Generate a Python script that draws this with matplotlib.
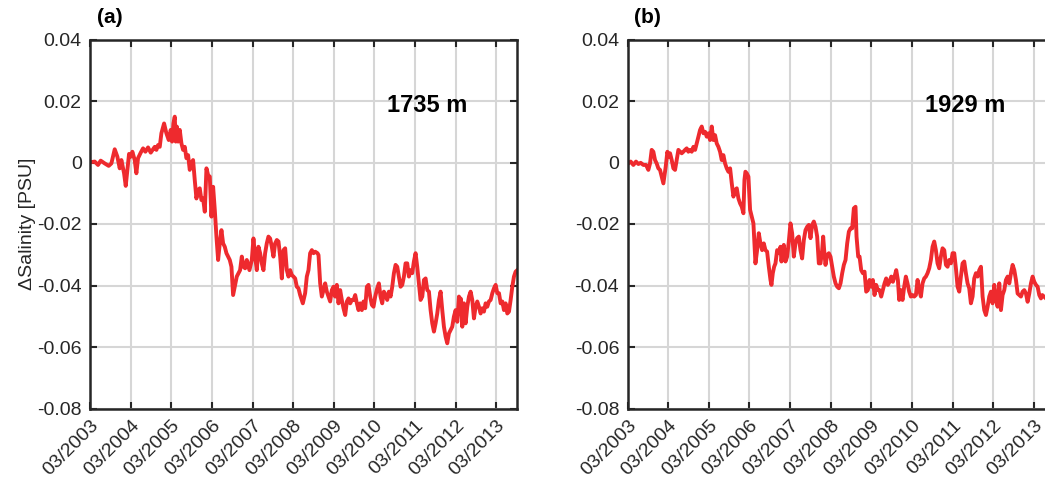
import matplotlib
matplotlib.use("Agg")
import matplotlib.pyplot as plt

# decimal year / salinity anomaly [PSU]
t_a = [2003.184, 2003.282, 2003.364, 2003.430, 2003.529, 2003.627, 2003.693, 2003.775, 2003.840, 2003.898,
       2003.939, 2004.005, 2004.046, 2004.087, 2004.128, 2004.169, 2004.210, 2004.267, 2004.308, 2004.349,
       2004.415, 2004.473, 2004.530, 2004.596, 2004.661, 2004.719, 2004.760, 2004.801, 2004.842, 2004.883,
       2004.924, 2004.990, 2005.047, 2005.105, 2005.154, 2005.187, 2005.220, 2005.253, 2005.277, 2005.302,
       2005.335, 2005.376, 2005.417, 2005.458, 2005.499, 2005.540, 2005.581, 2005.622, 2005.663, 2005.704,
       2005.745, 2005.786, 2005.827, 2005.868, 2005.909, 2005.950, 2005.992, 2006.033, 2006.074, 2006.115,
       2006.156, 2006.197, 2006.238, 2006.279, 2006.320, 2006.361, 2006.402, 2006.443, 2006.484, 2006.525,
       2006.566, 2006.607, 2006.648, 2006.689, 2006.779, 2006.861, 2006.903, 2006.944, 2006.985, 2007.026,
       2007.091, 2007.149, 2007.190, 2007.231, 2007.272, 2007.313, 2007.354, 2007.395, 2007.436, 2007.477,
       2007.518, 2007.559, 2007.600, 2007.641, 2007.682, 2007.724, 2007.765, 2007.806, 2007.847, 2007.888,
       2007.929, 2007.970, 2008.011, 2008.052, 2008.093, 2008.134, 2008.175, 2008.216, 2008.257, 2008.298,
       2008.339, 2008.405, 2008.462, 2008.503, 2008.544, 2008.585, 2008.627, 2008.668, 2008.709, 2008.766,
       2008.791, 2008.832, 2008.873, 2008.914, 2008.955, 2008.996, 2009.037, 2009.078, 2009.119, 2009.160,
       2009.201, 2009.242, 2009.283, 2009.324, 2009.365, 2009.406, 2009.448, 2009.489, 2009.530, 2009.571,
       2009.612, 2009.653, 2009.694, 2009.735, 2009.776, 2009.817, 2009.858, 2009.899, 2009.940, 2009.981,
       2010.022, 2010.063, 2010.104, 2010.145, 2010.186, 2010.236, 2010.277, 2010.318, 2010.359, 2010.400,
       2010.441, 2010.482, 2010.523, 2010.565, 2010.606, 2010.647, 2010.688, 2010.729, 2010.770, 2010.811,
       2010.852, 2010.893, 2010.934, 2010.975, 2011.016, 2011.057, 2011.098, 2011.139, 2011.180, 2011.221,
       2011.262, 2011.303, 2011.345, 2011.386, 2011.427, 2011.468, 2011.509, 2011.550, 2011.591, 2011.632,
       2011.673, 2011.714, 2011.755, 2011.796, 2011.837, 2011.878, 2011.919, 2011.960, 2012.001, 2012.042,
       2012.083, 2012.124, 2012.166, 2012.207, 2012.248, 2012.272, 2012.289, 2012.330, 2012.371, 2012.412,
       2012.453, 2012.494, 2012.535, 2012.576, 2012.617, 2012.658, 2012.699, 2012.740, 2012.781, 2012.822,
       2012.863, 2012.904, 2012.945, 2012.986, 2013.028, 2013.069, 2013.110, 2013.151, 2013.192, 2013.233,
       2013.274, 2013.315, 2013.356, 2013.397, 2013.438, 2013.479, 2013.520, 2013.561, 2013.602, 2013.643,
       2013.684]
s_a = [0.0001, 0.0003, -0.0008, 0.0006, -0.0003, -0.0011, -0.0003, 0.0043, 0.0019, -0.0019,
       0.0008, -0.0035, -0.0076, -0.0024, 0.0028, 0.0019, 0.0035, 0.0008, -0.0035, 0.0014,
       0.0032, 0.0046, 0.0035, 0.0049, 0.0032, 0.0043, 0.0051, 0.0041, 0.0057, 0.0051,
       0.0095, 0.0127, 0.0095, 0.0073, 0.0106, 0.0068, 0.0127, 0.0149, 0.0068, 0.0117,
       0.0068, 0.0106, 0.0062, 0.0041, 0.0051, 0.0014, 0.0024, -0.0024, -0.0003, 0.0008,
       -0.0057, -0.0117, -0.0089, -0.0084, -0.0122, -0.0117, -0.0160, -0.0019, -0.0041, -0.0046,
       -0.0176, -0.0079, -0.0154, -0.0241, -0.0317, -0.0263, -0.0220, -0.0263, -0.0274, -0.0295,
       -0.0306, -0.0317, -0.0339, -0.0431, -0.0371, -0.0350, -0.0306, -0.0339, -0.0344, -0.0317,
       -0.0350, -0.0317, -0.0247, -0.0306, -0.0350, -0.0274, -0.0295, -0.0328, -0.0350, -0.0295,
       -0.0263, -0.0241, -0.0247, -0.0274, -0.0306, -0.0263, -0.0252, -0.0257, -0.0306, -0.0377,
       -0.0285, -0.0279, -0.0350, -0.0371, -0.0350, -0.0366, -0.0371, -0.0377, -0.0404, -0.0409,
       -0.0431, -0.0458, -0.0425, -0.0371, -0.0350, -0.0295, -0.0285, -0.0295, -0.0290, -0.0295,
       -0.0301, -0.0393, -0.0436, -0.0415, -0.0393, -0.0420, -0.0436, -0.0452, -0.0415, -0.0404,
       -0.0436, -0.0398, -0.0458, -0.0415, -0.0447, -0.0474, -0.0496, -0.0452, -0.0442, -0.0458,
       -0.0447, -0.0447, -0.0431, -0.0458, -0.0480, -0.0458, -0.0480, -0.0452, -0.0474, -0.0404,
       -0.0398, -0.0436, -0.0463, -0.0469, -0.0436, -0.0409, -0.0393, -0.0436, -0.0458, -0.0420,
       -0.0431, -0.0447, -0.0420, -0.0436, -0.0404, -0.0360, -0.0333, -0.0339, -0.0371, -0.0404,
       -0.0398, -0.0371, -0.0328, -0.0328, -0.0371, -0.0350, -0.0360, -0.0322, -0.0295, -0.0339,
       -0.0393, -0.0447, -0.0436, -0.0382, -0.0377, -0.0415, -0.0420, -0.0480, -0.0523, -0.0550,
       -0.0523, -0.0491, -0.0447, -0.0420, -0.0480, -0.0534, -0.0566, -0.0588, -0.0556, -0.0545,
       -0.0534, -0.0501, -0.0480, -0.0518, -0.0436, -0.0491, -0.0442, -0.0534, -0.0458, -0.0523,
       -0.0469, -0.0436, -0.0420, -0.0447, -0.0507, -0.0469, -0.0452, -0.0469, -0.0491, -0.0474,
       -0.0485, -0.0458, -0.0469, -0.0452, -0.0447, -0.0425, -0.0409, -0.0398, -0.0425, -0.0425,
       -0.0458, -0.0452, -0.0480, -0.0458, -0.0491, -0.0485, -0.0447, -0.0404, -0.0371, -0.0355,
       -0.0350]

t_b = [2003.188, 2003.245, 2003.311, 2003.376, 2003.434, 2003.491, 2003.557, 2003.623, 2003.680, 2003.721,
       2003.762, 2003.803, 2003.844, 2003.885, 2003.926, 2003.967, 2004.009, 2004.050, 2004.074, 2004.107,
       2004.148, 2004.181, 2004.214, 2004.255, 2004.296, 2004.337, 2004.378, 2004.419, 2004.460, 2004.501,
       2004.542, 2004.583, 2004.624, 2004.665, 2004.706, 2004.747, 2004.789, 2004.830, 2004.871, 2004.912,
       2004.953, 2004.994, 2005.035, 2005.076, 2005.117, 2005.158, 2005.199, 2005.240, 2005.281, 2005.322,
       2005.363, 2005.404, 2005.445, 2005.486, 2005.527, 2005.568, 2005.609, 2005.650, 2005.692, 2005.733,
       2005.774, 2005.815, 2005.856, 2005.897, 2005.938, 2005.979, 2006.020, 2006.045, 2006.069, 2006.102,
       2006.143, 2006.184, 2006.225, 2006.266, 2006.316, 2006.357, 2006.398, 2006.439, 2006.480, 2006.521,
       2006.562, 2006.603, 2006.645, 2006.686, 2006.710, 2006.743, 2006.776, 2006.809, 2006.850, 2006.891,
       2006.932, 2006.956, 2006.989, 2007.014, 2007.055, 2007.096, 2007.137, 2007.178, 2007.219, 2007.260,
       2007.301, 2007.342, 2007.383, 2007.424, 2007.465, 2007.507, 2007.548, 2007.589, 2007.630, 2007.671,
       2007.712, 2007.753, 2007.794, 2007.835, 2007.876, 2007.917, 2007.958, 2007.983, 2008.007, 2008.040,
       2008.081, 2008.122, 2008.163, 2008.204, 2008.245, 2008.287, 2008.328, 2008.369, 2008.410, 2008.451,
       2008.492, 2008.533, 2008.574, 2008.615, 2008.656, 2008.697, 2008.738, 2008.779, 2008.804, 2008.845,
       2008.878, 2008.919, 2008.960, 2009.001, 2009.042, 2009.083, 2009.124, 2009.165, 2009.206, 2009.247,
       2009.288, 2009.329, 2009.370, 2009.411, 2009.452, 2009.493, 2009.534, 2009.575, 2009.617, 2009.658,
       2009.699, 2009.740, 2009.781, 2009.822, 2009.854, 2009.895, 2009.936, 2009.977, 2010.018, 2010.059,
       2010.100, 2010.141, 2010.183, 2010.224, 2010.265, 2010.306, 2010.347, 2010.388, 2010.429, 2010.470,
       2010.511, 2010.552, 2010.593, 2010.634, 2010.675, 2010.716, 2010.757, 2010.798, 2010.839, 2010.880,
       2010.921, 2010.963, 2011.004, 2011.045, 2011.086, 2011.127, 2011.168, 2011.209, 2011.250, 2011.291,
       2011.332, 2011.373, 2011.414, 2011.455, 2011.496, 2011.537, 2011.578, 2011.619, 2011.660, 2011.701,
       2011.743, 2011.784, 2011.825, 2011.866, 2011.907, 2011.948, 2011.989, 2012.030, 2012.071, 2012.112,
       2012.153, 2012.194, 2012.235, 2012.276, 2012.317, 2012.358, 2012.399, 2012.440, 2012.481, 2012.523,
       2012.564, 2012.605, 2012.646, 2012.687, 2012.728, 2012.769, 2012.810, 2012.851, 2012.892, 2012.933,
       2012.974, 2013.015, 2013.056, 2013.097, 2013.138, 2013.179, 2013.220, 2013.261, 2013.302, 2013.343,
       2013.376, 2013.450]
s_b = [-0.0003, 0.0003, -0.0008, 0.0003, -0.0005, -0.0001, -0.0008, -0.0008, -0.0024, -0.0003,
       0.0041, 0.0035, 0.0008, -0.0003, -0.0019, -0.0024, -0.0046, -0.0068, -0.0046, -0.0014,
       0.0035, 0.0019, 0.0030, 0.0008, -0.0019, -0.0024, 0.0008, 0.0041, 0.0035, 0.0030,
       0.0035, 0.0041, 0.0046, 0.0035, 0.0041, 0.0035, 0.0051, 0.0041, 0.0062, 0.0084,
       0.0106, 0.0117, 0.0095, 0.0100, 0.0084, 0.0095, 0.0073, 0.0117, 0.0073, 0.0089,
       0.0062, 0.0051, 0.0035, 0.0008, 0.0024, -0.0003, -0.0019, -0.0030, -0.0019, -0.0068,
       -0.0111, -0.0089, -0.0084, -0.0117, -0.0133, -0.0144, -0.0165, -0.0057, -0.0030, -0.0035,
       -0.0046, -0.0154, -0.0176, -0.0198, -0.0328, -0.0285, -0.0230, -0.0263, -0.0285, -0.0263,
       -0.0285, -0.0290, -0.0339, -0.0382, -0.0398, -0.0360, -0.0339, -0.0328, -0.0285, -0.0295,
       -0.0274, -0.0322, -0.0285, -0.0268, -0.0322, -0.0306, -0.0257, -0.0198, -0.0230, -0.0306,
       -0.0263, -0.0246, -0.0241, -0.0285, -0.0312, -0.0252, -0.0220, -0.0209, -0.0203, -0.0246,
       -0.0203, -0.0192, -0.0209, -0.0241, -0.0328, -0.0328, -0.0285, -0.0241, -0.0285, -0.0333,
       -0.0301, -0.0295, -0.0306, -0.0339, -0.0371, -0.0393, -0.0404, -0.0409, -0.0393, -0.0360,
       -0.0333, -0.0317, -0.0263, -0.0225, -0.0214, -0.0214, -0.0149, -0.0144, -0.0241, -0.0306,
       -0.0306, -0.0350, -0.0360, -0.0355, -0.0420, -0.0415, -0.0382, -0.0404, -0.0382, -0.0431,
       -0.0398, -0.0415, -0.0415, -0.0436, -0.0415, -0.0393, -0.0377, -0.0398, -0.0388, -0.0371,
       -0.0388, -0.0371, -0.0350, -0.0382, -0.0447, -0.0415, -0.0447, -0.0404, -0.0371, -0.0393,
       -0.0420, -0.0436, -0.0431, -0.0436, -0.0431, -0.0382, -0.0415, -0.0436, -0.0393, -0.0377,
       -0.0371, -0.0360, -0.0344, -0.0317, -0.0274, -0.0257, -0.0285, -0.0328, -0.0344, -0.0306,
       -0.0279, -0.0285, -0.0333, -0.0339, -0.0317, -0.0328, -0.0295, -0.0295, -0.0344, -0.0404,
       -0.0420, -0.0371, -0.0328, -0.0322, -0.0360, -0.0393, -0.0409, -0.0458, -0.0436, -0.0377,
       -0.0360, -0.0371, -0.0350, -0.0339, -0.0436, -0.0480, -0.0496, -0.0469, -0.0436, -0.0420,
       -0.0458, -0.0398, -0.0442, -0.0469, -0.0393, -0.0480, -0.0431, -0.0415, -0.0382, -0.0371,
       -0.0393, -0.0360, -0.0333, -0.0350, -0.0382, -0.0426, -0.0431, -0.0436, -0.0420, -0.0415,
       -0.0426, -0.0453, -0.0426, -0.0393, -0.0371, -0.0388, -0.0398, -0.0404, -0.0431, -0.0442,
       -0.0431, -0.0440]

years = list(range(2003, 2014))
tick_pos = [y + 2 / 12 for y in years]
tick_labels = [f"03/{y}" for y in years]
y_ticks = [0.04, 0.02, 0.0, -0.02, -0.04, -0.06, -0.08]
y_labels = ["0.04", "0.02", "0", "-0.02", "-0.04", "-0.06", "-0.08"]

panels = [
    ("(a)", "1735 m", t_a, s_a),
    ("(b)", "1929 m", t_b, s_b),
]

plt.rcParams["font.family"] = ["Liberation Sans", "DejaVu Sans"]

W, H = 1045, 482
fig = plt.figure(figsize=(W / 100, H / 100), dpi=100)

lefts = [90, 627.5]
ax_w, ax_top, ax_bot = 427, 39.5, 408.5
red = "#ee2a2e"

for i, (tag, depth, t, s) in enumerate(panels):
    ax = fig.add_axes([lefts[i] / W, 1 - ax_bot / H, ax_w / W, (ax_bot - ax_top) / H])
    ax.plot(t, s, color=red, lw=2.8, solid_joinstyle="round")
    ax.set_xlim(tick_pos[0], tick_pos[0] + 10.51)
    ax.set_ylim(-0.08, 0.04)
    ax.set_xticks(tick_pos)
    ax.set_xticklabels(tick_labels, rotation=45, ha="right", va="top",
                       rotation_mode="anchor", fontsize=14)
    ax.set_yticks(y_ticks)
    ax.set_yticklabels(y_labels, fontsize=14)
    ax.grid(True, color="#d6d6d6", lw=1.5)
    ax.set_axisbelow(True)
    ax.tick_params(direction="in", length=5, width=1.5, top=True, right=True,
                   colors="#262626", labelcolor="#262626", pad=6)
    for sp in ax.spines.values():
        sp.set_linewidth(1.8)
        sp.set_color("#262626")
    ax.text(0.79, 0.82, depth, transform=ax.transAxes, fontsize=17,
            fontweight="bold", ha="center", va="center")
    ax.text(0.016, 1.06, tag, transform=ax.transAxes, fontsize=15,
            fontweight="bold", ha="left", va="center")
    if i == 0:
        ax.set_ylabel("\u0394Salinity [PSU]", fontsize=14, color="#262626", labelpad=1)

fig.savefig("out.png", dpi=100)
